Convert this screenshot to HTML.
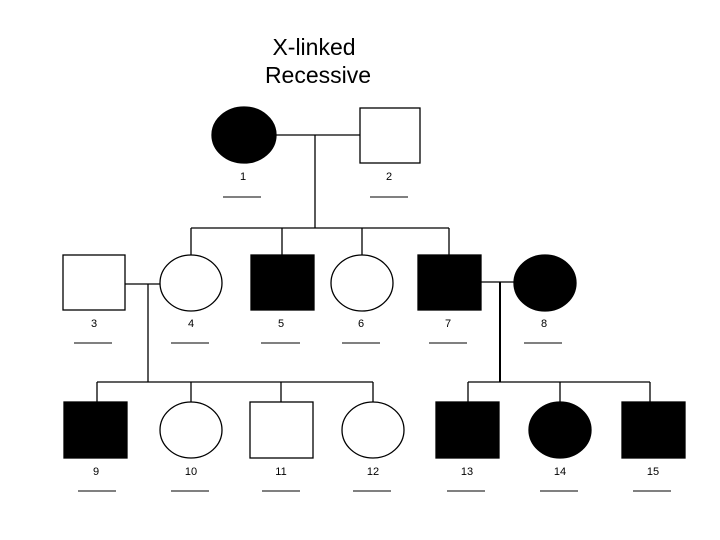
<!DOCTYPE html>
<html><head><meta charset="utf-8"><style>
html,body{margin:0;padding:0;background:#fff;}
svg{display:block;}
text{font-family:"Liberation Sans",Arial,sans-serif;}
</style></head><body>
<svg width="720" height="540" viewBox="0 0 720 540">
<text x="314" y="55" font-size="23" text-anchor="middle">X-linked</text>
<text x="318" y="83" font-size="23" text-anchor="middle">Recessive</text>
<g stroke="#000" stroke-width="1.3" fill="none">
<line x1="276" y1="135" x2="360" y2="135"/>
<line x1="315" y1="135" x2="315" y2="228"/>
<line x1="191" y1="228" x2="449" y2="228"/>
<line x1="191" y1="228" x2="191" y2="255"/>
<line x1="282" y1="228" x2="282" y2="255"/>
<line x1="362" y1="228" x2="362" y2="255"/>
<line x1="449" y1="228" x2="449" y2="255"/>
<line x1="125" y1="284" x2="160" y2="284"/>
<line x1="148" y1="284" x2="148" y2="382"/>
<line x1="97" y1="382" x2="373" y2="382"/>
<line x1="97" y1="382" x2="97" y2="402"/>
<line x1="191" y1="382" x2="191" y2="402"/>
<line x1="281" y1="382" x2="281" y2="402"/>
<line x1="373" y1="382" x2="373" y2="402"/>
<line x1="481" y1="282" x2="514" y2="282"/>
<line x1="500" y1="282" x2="500" y2="382" stroke-width="2"/>
<line x1="468" y1="382" x2="650" y2="382"/>
<line x1="468" y1="382" x2="468" y2="402"/>
<line x1="560" y1="382" x2="560" y2="402"/>
<line x1="650" y1="382" x2="650" y2="402"/>
</g>
<g stroke="#000" stroke-width="1.3">
<ellipse cx="244" cy="135" rx="32" ry="28" fill="#000"/>
<rect x="360" y="108" width="60" height="55" fill="#fff"/>
<rect x="63" y="255" width="62" height="55" fill="#fff"/>
<ellipse cx="191" cy="283" rx="31" ry="28" fill="#fff"/>
<rect x="251" y="255" width="63" height="55" fill="#000"/>
<ellipse cx="362" cy="283" rx="31" ry="28" fill="#fff"/>
<rect x="418" y="255" width="63" height="55" fill="#000"/>
<ellipse cx="545" cy="283" rx="31" ry="28" fill="#000"/>
<rect x="64" y="402" width="63" height="56" fill="#000"/>
<ellipse cx="191" cy="430" rx="31" ry="28" fill="#fff"/>
<rect x="250" y="402" width="63" height="56" fill="#fff"/>
<ellipse cx="373" cy="430" rx="31" ry="28" fill="#fff"/>
<rect x="436" y="402" width="63" height="56" fill="#000"/>
<ellipse cx="560" cy="430" rx="31" ry="28" fill="#000"/>
<rect x="622" y="402" width="63" height="56" fill="#000"/>
</g>
<g font-size="11" text-anchor="middle">
<text x="243" y="180">1</text><text x="389" y="180">2</text>
<text x="94" y="327">3</text><text x="191" y="327">4</text><text x="281" y="327">5</text>
<text x="361" y="327">6</text><text x="448" y="327">7</text><text x="544" y="327">8</text>
<text x="96" y="475">9</text><text x="191" y="475">10</text><text x="281" y="475">11</text>
<text x="373" y="475">12</text><text x="467" y="475">13</text><text x="560" y="475">14</text><text x="653" y="475">15</text>
</g>
<g stroke="#000" stroke-width="1">
<line x1="223" y1="197" x2="261" y2="197"/><line x1="370" y1="197" x2="408" y2="197"/>
<line x1="74" y1="343" x2="112" y2="343"/><line x1="171" y1="343" x2="209" y2="343"/>
<line x1="261" y1="343" x2="300" y2="343"/><line x1="342" y1="343" x2="380" y2="343"/>
<line x1="429" y1="343" x2="467" y2="343"/><line x1="524" y1="343" x2="562" y2="343"/>
<line x1="78" y1="491" x2="116" y2="491"/><line x1="171" y1="491" x2="209" y2="491"/>
<line x1="262" y1="491" x2="300" y2="491"/><line x1="353" y1="491" x2="391" y2="491"/>
<line x1="447" y1="491" x2="485" y2="491"/><line x1="540" y1="491" x2="578" y2="491"/>
<line x1="633" y1="491" x2="671" y2="491"/>
</g>
</svg>
</body></html>
